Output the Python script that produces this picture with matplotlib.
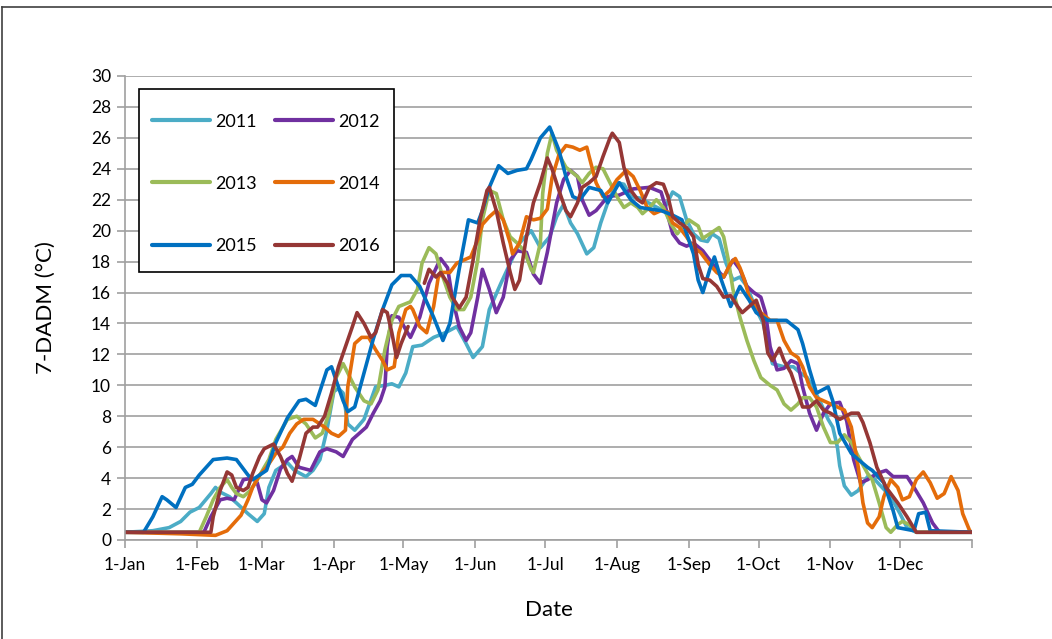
import numpy as np
from matplotlib import pyplot as plt
from matplotlib.lines import Line2D
from matplotlib.patches import Rectangle

# 7-day average of daily maximum water temperature, read by day of year
days_2011 = [0, 12, 19, 24, 28, 32, 37, 39, 41, 45, 48, 53, 57, 60, 62, 65, 70, 73, 78, 81, 84, 87, 90, 92, 94,
             96, 99, 103, 108, 112, 115, 118, 121, 124, 128, 133, 138, 143, 147, 150, 154, 157, 162, 166, 170, 175,
             179, 183, 186, 189, 192, 195, 199, 202, 205, 208, 212, 215, 218, 222, 228, 232, 236, 239, 242, 245,
             248, 251, 253, 256, 259, 262, 265, 268, 272, 275, 277, 279, 284, 288, 291, 294, 297, 300, 303, 305,
             307, 308, 310, 313, 316, 320, 322, 325, 330, 334, 337, 341, 365]
temp_2011 = [0.5, 0.6, 0.8, 1.2, 1.8, 2.1, 3.0, 3.4, 3.1, 2.8, 2.4, 1.7, 1.2, 1.7, 3.4, 4.5, 5.0, 4.5, 4.1, 4.5,
             5.2, 7.1, 9.6, 9.8, 9.5, 7.5, 7.1, 7.8, 9.9, 10.0, 10.1, 9.9, 10.8, 12.5, 12.6, 13.1, 13.4, 13.8, 12.7,
             11.8, 12.5, 14.9, 16.6, 17.9, 19.2, 20.0, 18.9, 19.6, 20.9, 21.7, 20.5, 19.8, 18.5, 18.9, 20.5, 21.8,
             23.1, 23.0, 22.2, 22.1, 21.6, 21.3, 22.5, 22.2, 20.7, 19.8, 19.4, 19.3, 19.8, 19.5, 17.9, 16.8, 17.0,
             16.4, 14.9, 14.0, 12.7, 11.4, 11.2, 11.2, 10.8, 10.5, 9.7, 8.8, 7.8, 7.3, 6.0, 4.8, 3.5, 2.9, 3.2, 4.1,
             4.1, 3.6, 2.8, 1.7, 0.8, 0.5, 0.5]

days_2012 = [0, 34, 37, 41, 44, 47, 51, 55, 57, 59, 61, 64, 67, 70, 72, 75, 80, 84, 87, 91, 94, 98, 104, 107, 110,
             112, 113, 115, 118, 121, 123, 127, 131, 136, 139, 141, 144, 147, 149, 152, 154, 157, 160, 163, 166,
             169, 173, 176, 179, 182, 186, 189, 192, 195, 197, 200, 203, 208, 213, 219, 226, 231, 233, 236, 239,
             242, 245, 249, 252, 255, 258, 262, 265, 268, 271, 274, 276, 278, 281, 284, 287, 290, 292, 295, 298,
             301, 304, 308, 311, 314, 317, 320, 324, 328, 331, 337, 340, 344, 348, 351, 365]
temp_2012 = [0.5, 0.5, 1.5, 2.6, 2.7, 2.6, 3.9, 4.0, 3.7, 2.6, 2.4, 3.2, 4.6, 5.2, 5.4, 4.7, 4.5, 5.7, 5.9, 5.7,
             5.4, 6.5, 7.3, 8.2, 9.0, 9.9, 12.5, 14.5, 14.4, 13.6, 13.1, 14.4, 16.6, 18.2, 17.6, 15.7, 13.8, 12.9,
             13.4, 15.7, 17.5, 16.2, 14.7, 15.7, 18.1, 18.7, 18.6, 17.2, 16.6, 18.6, 21.8, 23.3, 23.9, 23.5, 22.0,
             21.0, 21.3, 22.2, 22.3, 22.7, 22.8, 22.5, 21.5, 19.8, 19.2, 19.0, 19.2, 18.7, 18.1, 17.5, 17.0, 18.1,
             17.5, 16.4, 16.0, 15.7, 14.7, 12.5, 11.0, 11.1, 11.6, 11.4, 9.9, 8.2, 7.1, 8.2, 8.8, 8.9, 7.7, 5.2,
             3.7, 3.9, 4.3, 4.5, 4.1, 4.1, 3.4, 2.4, 1.1, 0.5, 0.5]

days_2013 = [0, 32, 35, 38, 41, 44, 46, 48, 51, 54, 57, 60, 62, 65, 70, 74, 78, 82, 85, 88, 91, 94, 96, 99, 103,
             106, 109, 112, 115, 118, 123, 126, 128, 131, 134, 137, 140, 143, 146, 149, 152, 154, 157, 160, 163,
             166, 169, 172, 175, 176, 179, 180, 182, 184, 186, 190, 195, 197, 200, 203, 206, 209, 212, 215, 218,
             221, 223, 226, 229, 232, 235, 238, 240, 243, 247, 249, 252, 256, 258, 260, 262, 265, 268, 271, 274,
             278, 281, 284, 287, 290, 292, 295, 298, 301, 304, 307, 310, 313, 316, 320, 322, 325, 328, 330, 333,
             335, 338, 341, 365]
temp_2013 = [0.5, 0.5, 1.5, 2.6, 3.4, 3.9, 3.4, 3.0, 2.8, 3.2, 3.9, 4.7, 5.2, 6.5, 7.8, 8.0, 7.5, 6.6, 6.9, 8.2,
             10.5, 11.4, 10.8, 9.9, 9.0, 8.8, 9.7, 12.3, 14.2, 15.1, 15.4, 16.2, 17.9, 18.9, 18.5, 17.0, 15.7, 14.9,
             14.9, 15.7, 18.1, 20.7, 22.6, 22.4, 20.7, 19.6, 19.2, 18.7, 17.5, 17.3, 19.2, 22.4, 25.0, 26.3, 25.2,
             24.1, 23.5, 23.1, 23.7, 24.1, 24.0, 23.1, 22.2, 21.5, 21.8, 21.5, 21.1, 21.5, 22.0, 21.5, 20.5, 19.8,
             20.2, 20.7, 20.3, 19.5, 19.8, 20.2, 19.6, 18.1, 16.2, 14.4, 12.9, 11.6, 10.5, 10.0, 9.7, 8.8, 8.4,
             8.8, 9.2, 9.2, 8.6, 7.3, 6.3, 6.3, 6.8, 6.3, 5.4, 4.3, 3.9, 2.4, 0.8, 0.5, 1.0, 1.2, 1.0, 0.5, 0.5]

days_2014 = [0, 24, 39, 44, 47, 50, 53, 55, 58, 61, 65, 68, 71, 74, 77, 81, 83, 86, 89, 92, 95, 96, 99, 102, 105,
             108, 111, 113, 116, 118, 121, 123, 124, 127, 130, 133, 135, 137, 140, 143, 146, 149, 152, 154, 157,
             160, 163, 166, 167, 170, 173, 176, 179, 182, 184, 187, 190, 193, 196, 199, 200, 203, 206, 209, 212,
             216, 219, 222, 225, 228, 231, 234, 236, 239, 242, 245, 248, 252, 255, 258, 261, 263, 265, 267, 269,
             272, 274, 278, 281, 284, 287, 290, 292, 295, 298, 301, 304, 307, 310, 313, 316, 318, 320, 322, 325,
             327, 330, 333, 335, 338, 341, 344, 347, 350, 353, 356, 359, 361, 364, 365]
temp_2014 = [0.5, 0.4, 0.3, 0.6, 1.1, 1.6, 2.6, 3.4, 4.2, 4.7, 5.6, 6.0, 6.9, 7.5, 7.8, 7.8, 7.6, 7.3, 6.9, 6.7,
             7.1, 9.9, 12.7, 13.1, 13.1, 12.3, 11.6, 11.0, 11.2, 13.4, 14.9, 15.1, 14.9, 13.8, 13.4, 15.1, 17.0,
             17.3, 17.3, 17.9, 18.1, 18.3, 19.4, 20.4, 20.9, 21.3, 20.7, 19.2, 18.5, 19.2, 20.9, 20.7, 20.8, 21.4,
             23.4, 24.9, 25.5, 25.4, 25.2, 25.4, 24.8, 23.1, 22.2, 22.6, 23.3, 23.9, 23.5, 22.6, 21.5, 21.1, 21.3,
             21.2, 20.5, 20.2, 19.6, 18.9, 18.6, 17.8, 17.3, 17.0, 17.9, 18.2, 17.6, 16.8, 15.7, 15.1, 14.7, 14.2,
             14.2, 12.9, 12.1, 11.8, 11.2, 9.9, 9.2, 9.0, 8.8, 8.6, 8.4, 7.3, 4.7, 2.4, 1.1, 0.8, 1.5, 2.8, 3.9,
             3.4, 2.6, 2.8, 3.9, 4.4, 3.7, 2.7, 3.0, 4.1, 3.2, 1.7, 0.6, 0.5]

days_2015 = [0, 8, 12, 16, 18, 22, 26, 29, 32, 38, 44, 48, 53, 55, 58, 61, 65, 70, 75, 78, 82, 87, 89, 94, 96, 99,
             103, 107, 111, 115, 119, 123, 127, 133, 137, 140, 144, 148, 152, 154, 157, 161, 165, 169, 173, 175,
             179, 183, 187, 190, 193, 196, 200, 205, 208, 213, 218, 222, 226, 231, 236, 240, 245, 247, 249, 252,
             254, 257, 261, 265, 269, 272, 277, 285, 290, 292, 295, 298, 303, 305, 308, 313, 316, 320, 322, 327,
             331, 333, 340, 342, 345, 347, 365]
temp_2015 = [0.5, 0.5, 1.5, 2.8, 2.6, 2.1, 3.4, 3.6, 4.2, 5.2, 5.3, 5.2, 4.2, 3.9, 4.2, 4.5, 6.3, 7.9, 9.0, 9.1,
             8.7, 11.0, 11.2, 9.0, 8.3, 8.6, 10.8, 13.0, 14.9, 16.5, 17.1, 17.1, 16.4, 14.4, 12.9, 14.0, 17.5,
             20.7, 20.5, 21.3, 22.8, 24.2, 23.7, 23.9, 24.0, 24.6, 26.0, 26.7, 25.2, 23.5, 22.2, 22.0, 22.8, 22.6,
             21.8, 23.1, 22.0, 21.5, 21.4, 21.3, 21.0, 20.7, 18.5, 16.8, 16.0, 17.5, 18.3, 16.8, 15.1, 16.4, 15.5,
             14.7, 14.2, 14.2, 13.6, 12.7, 11.0, 9.5, 9.9, 9.0, 6.9, 5.6, 5.2, 4.7, 4.5, 3.7, 1.9, 0.8, 0.6, 1.7,
             1.8, 0.6, 0.5]

# 2016 has a few missing days in early May (nan breaks the line)
days_2016 = [0, 37, 38, 41, 44, 46, 48, 51, 53, 55, 58, 60, 64, 67, 70, 72, 75, 78, 81, 83, 86, 89, 92, 95, 98,
             100, 103, 106, 108, 111, 113, 115, 117, 119, 122, 125, 129, 131, 134, 136, 139, 141, 144, 147, 150,
             153, 156, 157, 160, 163, 166, 168, 170, 173, 176, 179, 182, 184, 187, 190, 192, 195, 197, 200, 203,
             206, 209, 210, 213, 215, 218, 221, 223, 226, 229, 232, 234, 236, 239, 242, 245, 247, 249, 252, 255,
             258, 261, 264, 266, 269, 272, 275, 277, 279, 282, 284, 287, 290, 292, 295, 298, 301, 304, 308, 313,
             316, 318, 321, 324, 328, 333, 337, 341, 365]
temp_2016 = [0.5, 0.5, 1.5, 3.2, 4.4, 4.2, 3.4, 3.2, 3.4, 4.3, 5.4, 5.9, 6.2, 5.4, 4.3, 3.8, 5.2, 6.9, 7.3, 7.3,
             8.0, 9.5, 11.2, 12.5, 13.8, 14.7, 14.0, 13.1, 13.4, 14.9, 14.7, 13.4, 11.8, 12.7, 13.8, np.nan, 16.6,
             17.5, 17.0, 17.3, 16.6, 15.7, 15.0, 15.7, 18.1, 20.7, 22.6, 22.8, 21.3, 19.2, 17.3, 16.2, 16.8, 19.6,
             21.8, 23.1, 24.7, 24.0, 22.6, 21.3, 20.9, 21.8, 22.8, 23.1, 23.5, 24.8, 26.0, 26.3, 25.7, 24.1, 22.6,
             22.0, 21.8, 22.8, 23.1, 23.0, 22.2, 20.9, 20.5, 20.2, 19.6, 17.8, 16.9, 16.8, 16.4, 15.7, 15.8, 15.1,
             14.7, 15.1, 15.5, 14.2, 12.1, 11.6, 12.4, 11.6, 10.8, 9.5, 8.6, 8.6, 9.0, 8.4, 8.2, 7.8, 8.2, 8.2,
             7.6, 6.3, 4.7, 3.4, 2.4, 1.5, 0.5, 0.5]

month_days = [0, 31, 59, 90, 120, 151, 181, 212, 243, 273, 304, 334, 365]
month_labels = ['1-Jan', '1-Feb', '1-Mar', '1-Apr', '1-May', '1-Jun', '1-Jul', '1-Aug', '1-Sep', '1-Oct',
                '1-Nov', '1-Dec', '']

series = [
    ('2011', days_2011, temp_2011, '#4BACC6'),
    ('2012', days_2012, temp_2012, '#7030A0'),
    ('2013', days_2013, temp_2013, '#9BBB59'),
    ('2014', days_2014, temp_2014, '#E46C0A'),
    ('2015', days_2015, temp_2015, '#0070C0'),
    ('2016', days_2016, temp_2016, '#953735'),
]

plt.rcParams['font.family'] = ['Lato', 'DejaVu Sans']
grid_color = '#A0A0A0'
W, H = 1052, 639

figure = plt.figure(figsize=(W / 100, H / 100), dpi=100)
axes = figure.add_axes([125 / W, 1 - 540 / H, 847 / W, 464 / H])

lines = {}
for name, days, temps, color in series:
    line, = axes.plot(days, temps, color=color, linewidth=2.6, label=name,
                      solid_capstyle='round', solid_joinstyle='round')
    lines[name] = line

axes.set_xlim(0, 365)
axes.set_ylim(0, 30)
axes.set_yticks(range(0, 31, 2))
axes.set_xticks(month_days)
axes.set_xticklabels(month_labels)
axes.yaxis.grid(True, color=grid_color, linewidth=1.2)
axes.set_axisbelow(True)
for side in ('top', 'right'):
    axes.spines[side].set_visible(False)
for side in ('left', 'bottom'):
    axes.spines[side].set_color(grid_color)
    axes.spines[side].set_linewidth(1.2)
axes.tick_params(axis='both', colors=grid_color, labelcolor='black', labelsize=12.5, length=6, width=1.2)
axes.tick_params(axis='x', pad=6)
axes.tick_params(axis='y', pad=4)

axes.set_xlabel('Date', fontsize=16, labelpad=20)
axes.set_ylabel('7-DADM (°C)', fontsize=16, labelpad=25)

# legend box drawn separately so its size is fixed
legend_box = Rectangle((139 / W, 1 - 272 / H), 255 / W, 183 / H, transform=figure.transFigure,
                       facecolor='white', edgecolor='black', linewidth=1.2, zorder=4)
figure.add_artist(legend_box)

# legend filled row by row: 2011 2012 / 2013 2014 / 2015 2016
order = ['2011', '2013', '2015', '2012', '2014', '2016']
legend = figure.legend([lines[n] for n in order], order, ncol=2, loc='upper left',
                       bbox_to_anchor=(131 / W, 1 - 93 / H), bbox_transform=figure.transFigure,
                       fontsize=13, frameon=False, handlelength=3.2, handletextpad=0.3,
                       columnspacing=1.03, labelspacing=2.55, borderpad=1.15, borderaxespad=0)
legend.set_zorder(5)
for handle in legend.get_lines():
    handle.set_linewidth(3)

# outer chart border (left and top edges visible)
figure.add_artist(Line2D([2 / W, 2 / W], [0, 1 - 7 / H], color='#404040', linewidth=1.2))
figure.add_artist(Line2D([2 / W, 1], [1 - 7 / H, 1 - 7 / H], color='#404040', linewidth=1.2))

figure.savefig('out.png', dpi=100)
